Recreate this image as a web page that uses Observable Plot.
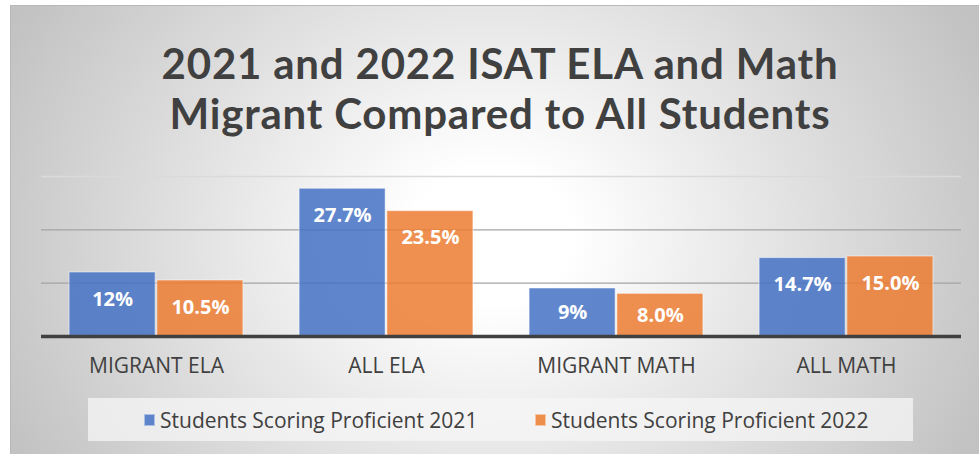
<!DOCTYPE html>
<html><head><meta charset="utf-8">
<script src="https://cdn.jsdelivr.net/npm/d3@7"></script>
<script src="https://cdn.jsdelivr.net/npm/@observablehq/plot@0.6"></script>
<style>
html,body{margin:0;padding:0;background:#fff;}
#page{position:relative;width:979px;height:454px;overflow:hidden;font-family:"Open Sans",sans-serif;}
#bg{position:absolute;left:10px;top:5px;width:990px;height:470px;border:1px solid #b8b8b8;
  background:radial-gradient(ellipse 540px 454px at 480px 230px,#ffffff 0%,#ffffff 15%,#c2c2c2 100%);}
#title{position:absolute;left:10px;width:980px;top:37.5px;text-align:center;font-family:Lato,"Open Sans",sans-serif;font-weight:700;font-size:42px;line-height:50.5px;letter-spacing:0.8px;color:#404040;}
#chart{position:absolute;left:0;top:0;}
#legend{position:absolute;left:88px;top:398px;width:825px;height:43px;background:rgba(246,246,246,0.75);}
.item{position:absolute;top:0;height:43px;display:flex;align-items:center;font-size:21px;color:#404040;white-space:nowrap;}
.sw{width:11px;height:12px;margin-right:5px;box-sizing:border-box;}
</style></head>
<body>
<div id="page">
  <div id="bg"></div>
  <div id="title">2021 and 2022 ISAT ELA and Math<br>Migrant Compared to All Students</div>
  <div id="chart"></div>
  <div id="legend"></div>
</div>
<script>
const categories = ["MIGRANT ELA", "ALL ELA", "MIGRANT MATH", "ALL MATH"];
const series = ["Students Scoring Proficient 2021", "Students Scoring Proficient 2022"];
const values2021 = [12, 27.7, 9, 14.7];
const values2022 = [10.5, 23.5, 8.0, 15.0];
const labels2021 = ["12%", "27.7%", "9%", "14.7%"];
const labels2022 = ["10.5%", "23.5%", "8.0%", "15.0%"];
const gridTicks = [10, 20];
const topTick = [30];
const colors = ["#4472C4", "#ED7D31"];

const rows = [];
categories.forEach((c, i) => {
  rows.push({category: c, series: series[0], value: values2021[i], label: labels2021[i]});
  rows.push({category: c, series: series[1], value: values2022[i], label: labels2022[i]});
});

const chart = Plot.plot({
  width: 979, height: 454,
  marginTop: 176, marginBottom: 118, marginLeft: 40, marginRight: 17,
  style: {background: "transparent", overflow: "visible", fontFamily: "Open Sans", color: "#404040"},
  fx: {domain: categories, padding: 0, label: null, axis: null},
  x: {domain: series, axis: null, paddingInner: 0.02, paddingOuter: 0.32, round: false},
  y: {domain: [0, 30], axis: null},
  color: {domain: series, range: colors},
  marks: [
    Plot.ruleY(gridTicks, {stroke: "#a3a3a3", strokeWidth: 1.3}),
    Plot.ruleY(topTick, {stroke: "#dadada", strokeWidth: 1.3}),
    Plot.barY(rows, {fx: "category", x: "series", y: "value", fill: "series", fillOpacity: 0.85,
      stroke: "#ffffff", strokeOpacity: 0.5, inset: 0}),
    Plot.ruleY([0], {stroke: "#404040", strokeWidth: 3.5}),
    Plot.text(rows, {fx: "category", x: "series", y: d => Math.max(d.value - 5, d.value / 2),
      text: "label", fill: "white", fontWeight: "bold", fontSize: 20}),
    Plot.axisFx({anchor: "bottom", tickSize: 0, tickPadding: 22, fontSize: 21, label: null, fill: "#404040"})
  ]
});
document.getElementById("chart").appendChild(chart);

const legend = document.getElementById("legend");
const lefts = [56, 447];
series.forEach((s, i) => {
  const it = document.createElement("div");
  it.className = "item";
  it.style.left = lefts[i] + "px";
  const sw = document.createElement("div");
  sw.className = "sw";
  sw.style.background = colors[i];
  sw.style.opacity = 0.85;
  sw.style.border = "1px solid rgba(255,255,255,0.5)";
  const t = document.createElement("span");
  t.textContent = s;
  it.appendChild(sw); it.appendChild(t);
  legend.appendChild(it);
});
</script>
</body></html>
